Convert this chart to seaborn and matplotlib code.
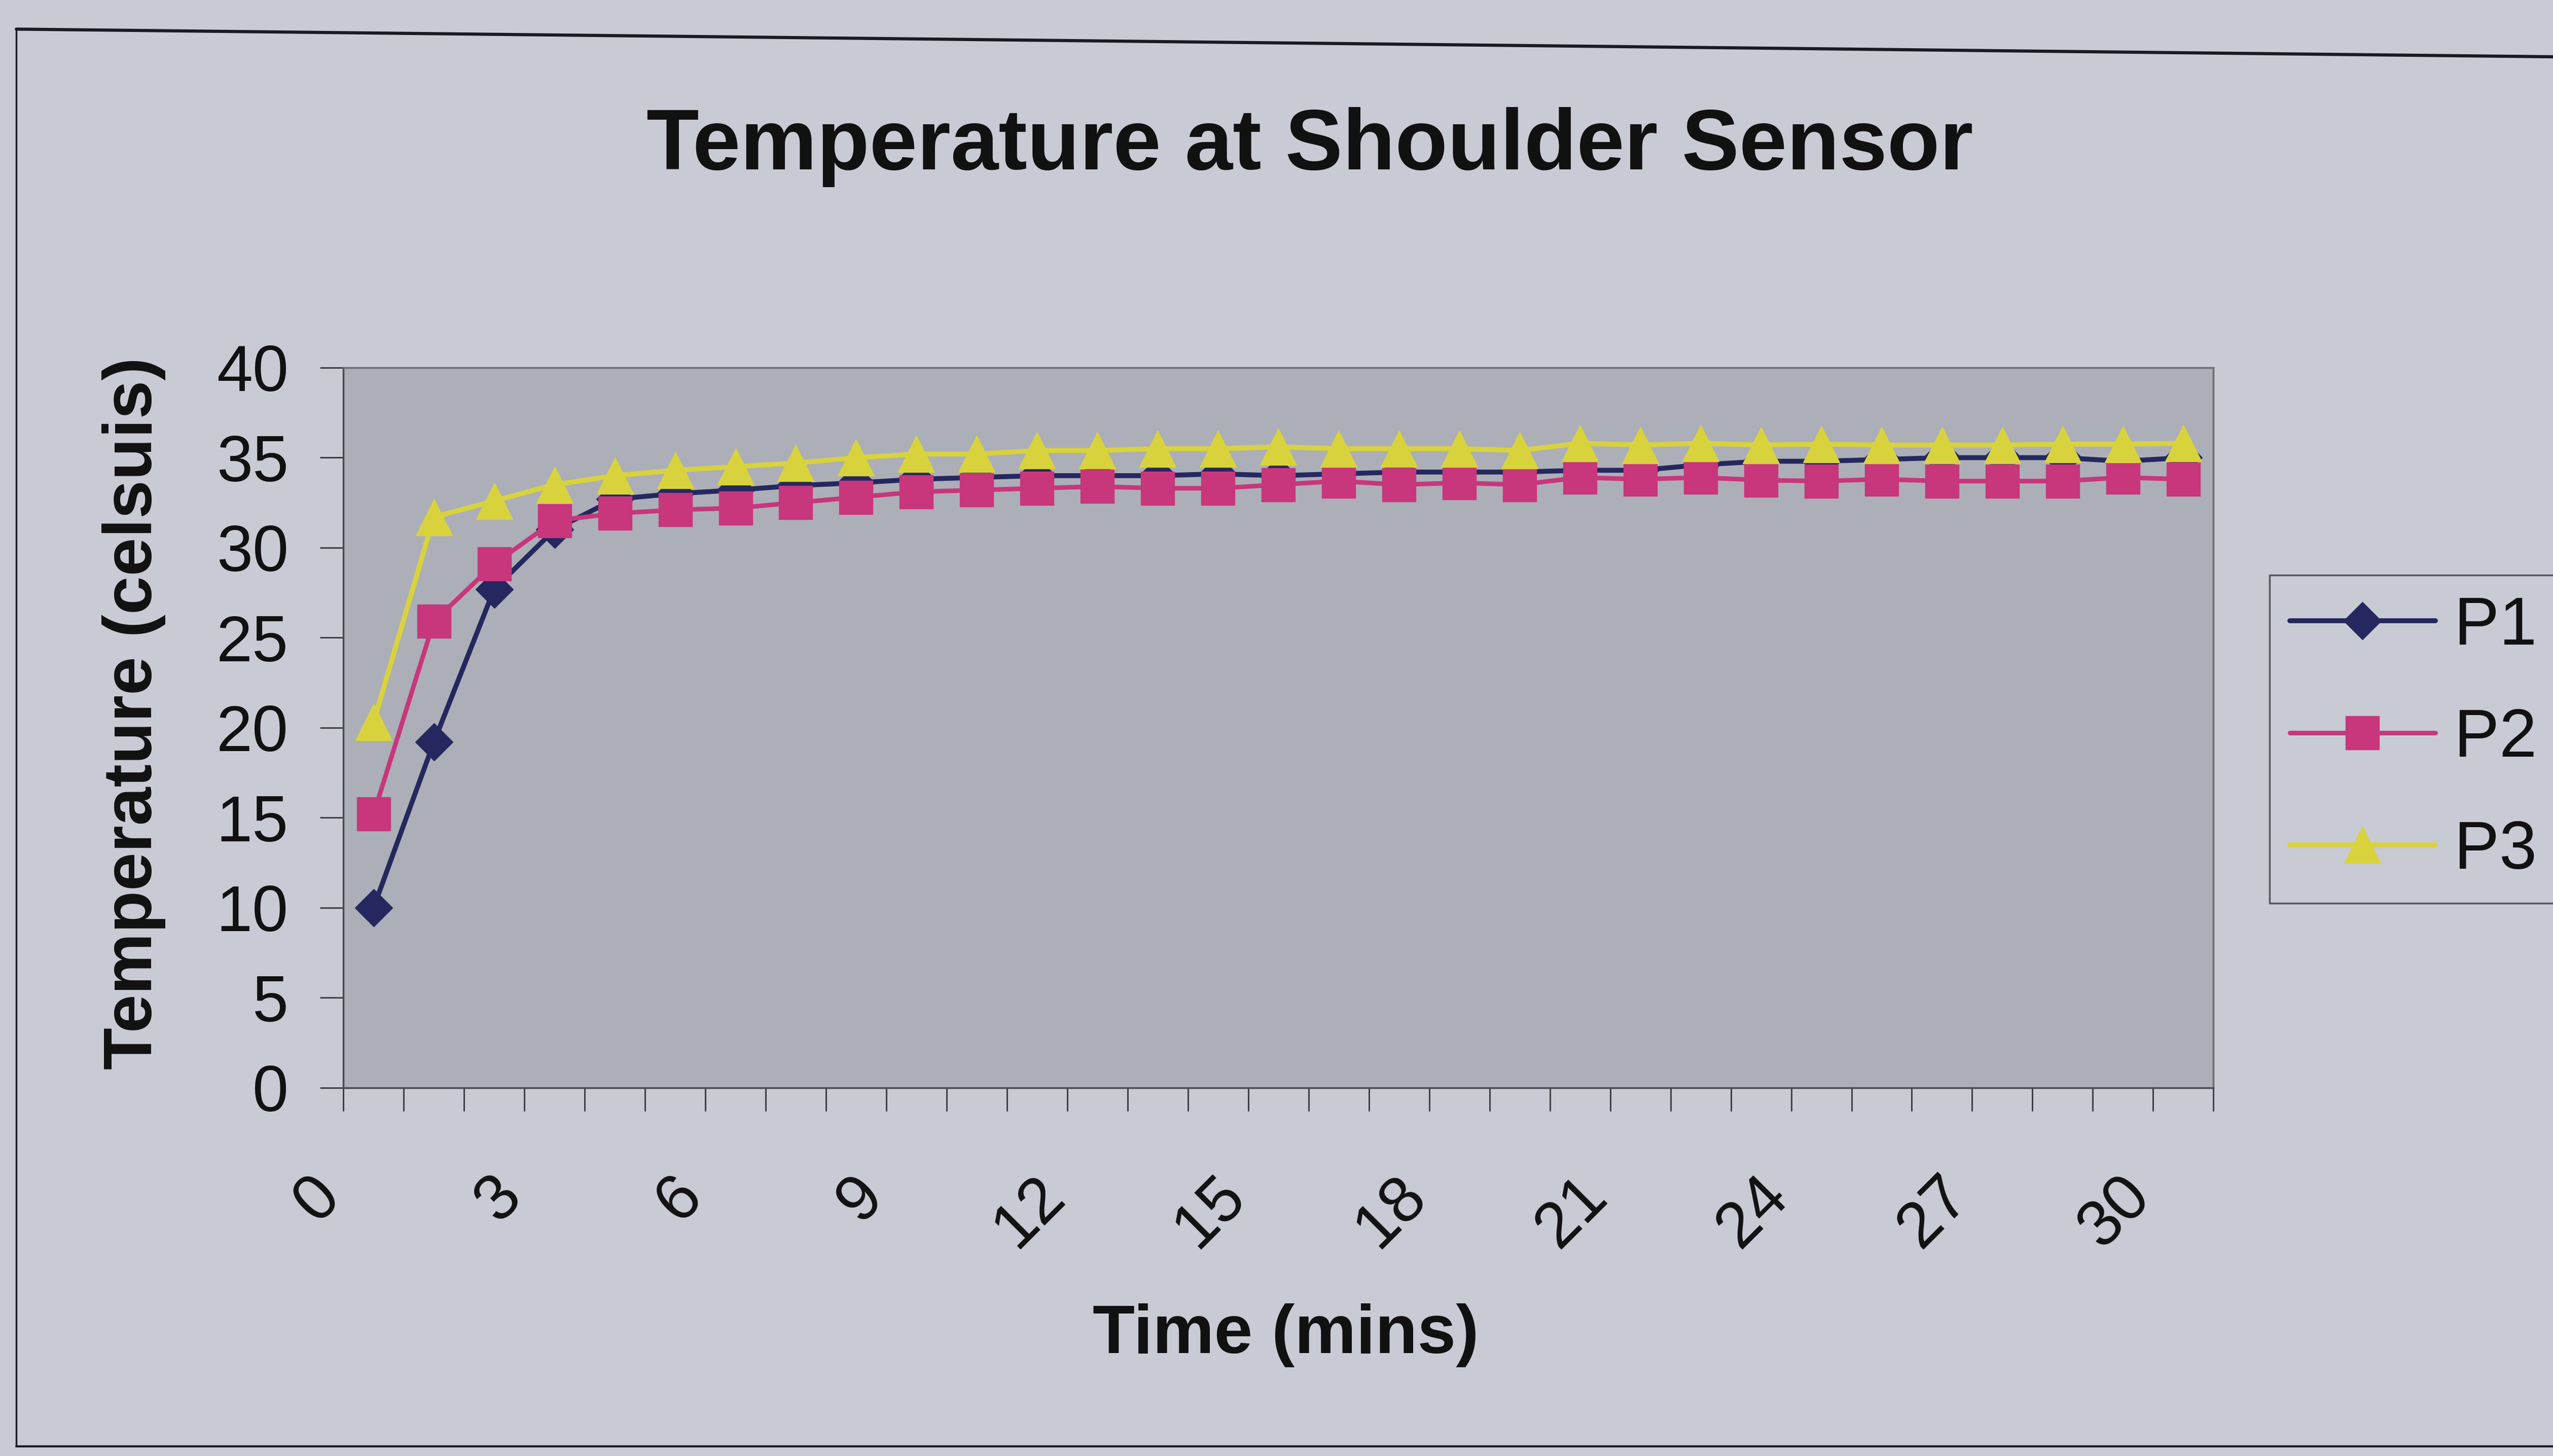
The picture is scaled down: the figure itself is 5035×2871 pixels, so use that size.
import matplotlib
matplotlib.use("Agg")
import matplotlib.pyplot as plt
import matplotlib.transforms as mtransforms
from matplotlib.lines import Line2D
from matplotlib.ticker import FixedLocator
import pandas as pd
import seaborn as sns

# ---- data ----
time_mins = list(range(31))
p1 = [10.0, 19.2, 27.7, 31.0, 32.7, 33.0, 33.2, 33.45, 33.6, 33.8, 33.9, 34.0,
      34.0, 34.0, 34.1, 34.0, 34.1, 34.2, 34.2, 34.2, 34.3, 34.3, 34.6,
      34.8, 34.8, 34.9, 35.0, 35.0, 35.0, 34.8, 35.0]
p2 = [15.2, 25.9, 29.1, 31.5, 31.9, 32.1, 32.2, 32.5, 32.8, 33.1, 33.2, 33.3,
      33.4, 33.3, 33.3, 33.5, 33.7, 33.5, 33.6, 33.5, 33.9, 33.8, 33.9,
      33.75, 33.7, 33.8, 33.7, 33.7, 33.7, 33.9, 33.8]
p3 = [20.3, 31.7, 32.6, 33.5, 34.0, 34.3, 34.5, 34.7, 35.0, 35.2, 35.2, 35.4,
      35.4, 35.5, 35.5, 35.6, 35.5, 35.5, 35.5, 35.4, 35.8, 35.7, 35.8,
      35.7, 35.75, 35.7, 35.7, 35.7, 35.75, 35.75, 35.8]
series_names = ["P1", "P2", "P3"]
x_label_values = [0, 3, 6, 9, 12, 15, 18, 21, 24, 27, 30]
x_tick_labels = [str(v) for v in x_label_values]
y_ticks = [0, 5, 10, 15, 20, 25, 30, 35, 40]

title_text = "Temperature at Shoulder Sensor"
x_title = "Time (mins)"
y_title = "Temperature (celsuis)"

df = pd.DataFrame({
    "time": time_mins * 3,
    "temp": p1 + p2 + p3,
    "series": [n for n in series_names for _ in time_mins],
})

# ---- style ----
sns.set_theme(style="white")
plt.rcParams["font.family"] = ["Liberation Sans", "DejaVu Sans"]

bg = "#C8CAD4"
plot_bg = "#ACAFB7"
styles = {
    "P1": dict(color="#25285f", marker="D", markersize=38, linewidth=7.0),
    "P2": dict(color="#c8367c", marker="s", markersize=47, linewidth=6.5),
    "P3": dict(color="#d8d33c", marker="^", markersize=52, linewidth=7.0),
}

fig = plt.figure(figsize=(50.35, 28.71), dpi=100, facecolor=bg)
ax = fig.add_axes([0.1345, 0.2529, 0.7325, 0.4946])
ax.set_facecolor(plot_bg)

for name in series_names:
    st = styles[name]
    sns.lineplot(data=df[df["series"] == name], x="time", y="temp", ax=ax,
                 color=st["color"], marker=st["marker"],
                 markersize=st["markersize"], markeredgecolor=st["color"],
                 markeredgewidth=1, linewidth=st["linewidth"],
                 label=name, errorbar=None, legend=False)

if ax.get_legend() is not None:
    ax.get_legend().remove()

ax.set_xlim(-0.5, 30.5)
ax.set_ylim(0, 40)

# y axis
ax.set_yticks(y_ticks)
ax.set_yticklabels([str(v) for v in y_ticks])
ax.tick_params(axis="y", direction="out", length=33, width=2.2,
               color="#404045", labelsize=92, pad=45, labelcolor="#111111",
               left=True)

# x axis: tick marks at category boundaries, labels every 3rd category
ax.set_xticks(x_label_values)
ax.set_xticklabels(x_tick_labels)
ax.xaxis.set_minor_locator(FixedLocator([k - 0.5 for k in range(32)]))
ax.tick_params(axis="x", which="major", length=0, labelsize=92, pad=110,
               labelcolor="#111111", bottom=True)
ax.tick_params(axis="x", which="minor", direction="out", length=33,
               width=2.2, color="#404045", bottom=True)
shift = mtransforms.ScaledTranslation(-0.42, 0, fig.dpi_scale_trans)
for lab in ax.get_xticklabels():
    lab.set_rotation(45)
    lab.set_ha("right")
    lab.set_va("top")
    lab.set_transform(lab.get_transform() + shift)

for side, sp in ax.spines.items():
    sp.set_visible(True)
    sp.set_linewidth(2.5)
    sp.set_color("#4a4a50" if side in ("left", "bottom") else "#6a6c72")

ax.grid(False)

# axis titles
ax.set_xlabel(x_title, fontsize=98, fontweight="bold", color="#111111")
ax.xaxis.set_label_coords(0.504, -0.344)
ax.xaxis.label.set_va("center")
ax.set_ylabel(y_title, fontsize=98, fontweight="bold", color="#111111")
ax.yaxis.set_label_coords(-0.112, 0.52)
ax.yaxis.label.set_va("center")

# chart title
fig.text(0.513, 0.899, title_text, ha="center", va="center",
         fontsize=122, fontweight="bold", color="#111111")

# legend
handles, labels = ax.get_legend_handles_labels()
leg = fig.legend(handles, labels, loc="upper left",
                 bbox_to_anchor=(0.889, 0.605), fontsize=96, frameon=True,
                 fancybox=False, facecolor=bg, edgecolor="#55575c",
                 framealpha=1, handlelength=2.15, handletextpad=0.28,
                 labelspacing=0.72, borderpad=0.3, borderaxespad=0)
leg.get_frame().set_linewidth(2.5)
for t in leg.get_texts():
    t.set_color("#111111")

# outer chart border
fig.add_artist(Line2D([0.0064, 0.0064], [0.0066, 0.98], transform=fig.transFigure,
                      color="#1a1a22", linewidth=2.5))
fig.add_artist(Line2D([0.0064, 1.0], [0.98, 0.961], transform=fig.transFigure,
                      color="#1a1a22", linewidth=4.5))
fig.add_artist(Line2D([0.0064, 1.0], [0.0066, 0.0066], transform=fig.transFigure,
                      color="#1a1a22", linewidth=3))

fig.savefig("out.png", dpi=100, facecolor=bg)
